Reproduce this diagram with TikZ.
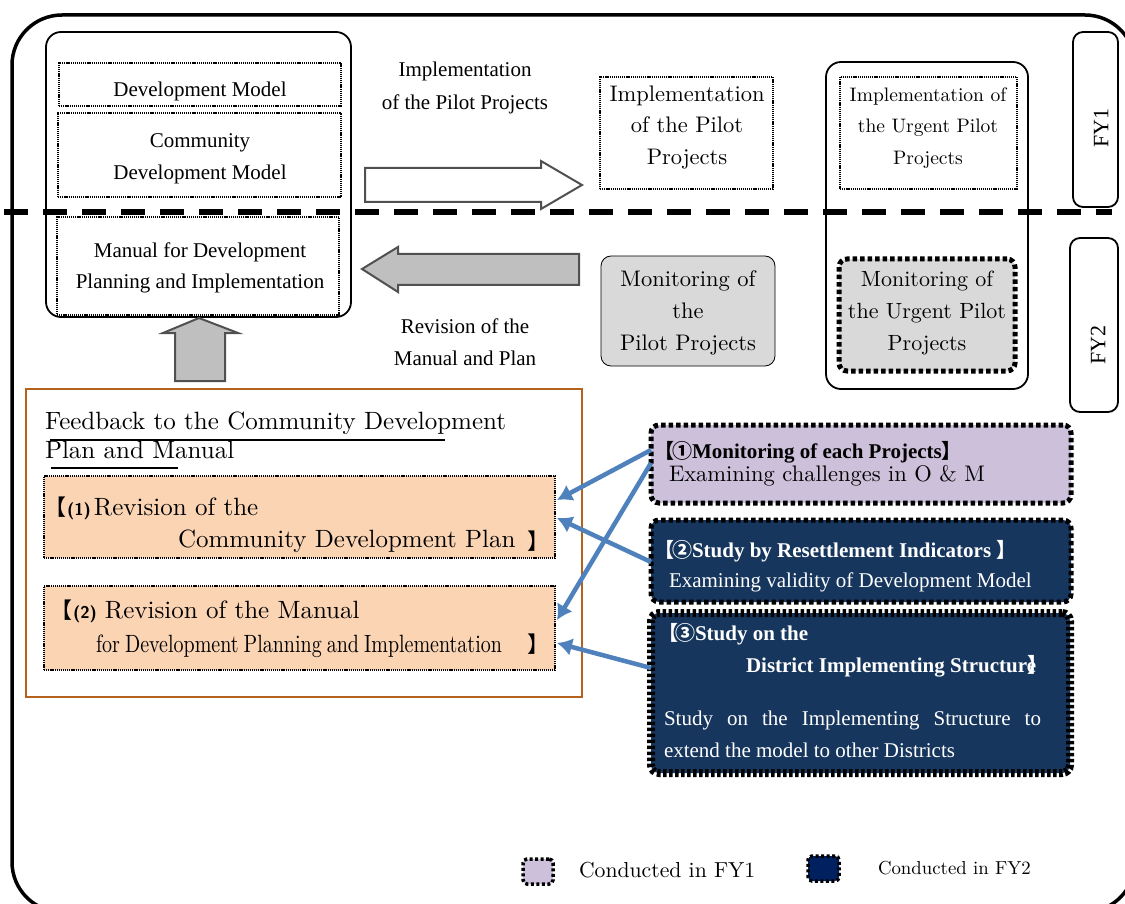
\documentclass[tikz,border=0pt]{standalone}
\usepackage{fontspec}
\usepackage{graphicx}
\usetikzlibrary{arrows.meta,calc}
\setmainfont{lmroman10-regular.otf}[BoldFont=lmroman10-bold.otf,ItalicFont=lmroman10-italic.otf]
\newfontfamily\tms{Liberation Serif}
\newfontfamily\cjk{Noto Sans CJK JP}
\definecolor{peach}{HTML}{FBD4B4}
\definecolor{lilac}{HTML}{CCC0DA}
\definecolor{navy}{HTML}{17365D}
\definecolor{navyk}{HTML}{002060}
\definecolor{rust}{HTML}{B5621E}
\definecolor{linkblue}{HTML}{4F81BD}
\definecolor{panel}{HTML}{D9D9D9}
\definecolor{arrowgray}{HTML}{BFBFBF}
\definecolor{edgegray}{HTML}{505050}

\begin{document}
\begin{tikzpicture}[x=1pt,y=-1pt,
  every node/.style={inner sep=0pt,outer sep=0pt},
  wh/.style 2 args={minimum width=#1pt,minimum height=#2pt,anchor=north west},
  fine dots/.style={draw=black,line width=1.3pt,dash pattern=on 1.2pt off 0.9pt},
  heavy dots/.style={draw=black,line width=5pt,dash pattern=on 4.5pt off 3pt,rounded corners=8pt},
  bar dots/.style={draw=black,line width=8pt,dash pattern=on 3.5pt off 2.5pt,rounded corners=8pt},
  solid round/.style={draw=black,line width=1.8pt,rounded corners=15pt},
  block arrow/.style={draw=edgegray,line width=2pt,line join=miter},
  link/.style={draw=linkblue,line width=4.5pt,-{Latex[length=15pt,width=18pt]}},
  tm/.style={font=\tms\fontsize{21}{21}\selectfont},
  tmb/.style={font=\tms\bfseries\fontsize{21}{21}\selectfont},
  lmsize/.style={font=\fontsize{#1}{#1}\selectfont},
  mark cjk/.style={font=\cjk\fontsize{20}{20}\selectfont},
]
\useasboundingbox (0,0) rectangle (1125,904);
\clip (0,0) rectangle (1125,904);
\fill[white] (0,0) rectangle (1125,904);

% outer frame
\draw[line width=3.5pt,rounded corners=50pt] (12,15) rectangle (1135,912);

% ---------- development model block ----------
\node[solid round,wh={305}{285}] (plan) at (46,32) {};
\node[fine dots,wh={282}{43}] (dm) at (59,63) {};
\node[tm,anchor=base] (dmT) at (200,97) {Development Model};
\node[fine dots,wh={283}{84}] (cdm) at (58,113) {};
\node[tm,anchor=base] (cdmA) at (200,148) {Community};
\node[tm,anchor=base] (cdmB) at (200,180) {Development Model};
\node[fine dots,wh={282}{98}] (man) at (57,217) {};
\node[tm,anchor=base] (manA) at (200,258) {Manual for Development};
\node[tm,anchor=base] (manB) at (200,288) {Planning and Implementation};

% block arrows
\draw[block arrow,fill=white] (365,168) -- (541,168) -- (541,161) -- (582,185)
  -- (541,209) -- (541,202) -- (365,202) -- cycle;
\draw[block arrow,fill=arrowgray] (579,254) -- (398,254) -- (398,247) -- (362,269)
  -- (398,292) -- (398,285) -- (579,285) -- cycle;
\draw[block arrow,fill=arrowgray] (175,381) -- (175,333) -- (163,333) -- (199,318)
  -- (238,333) -- (225,333) -- (225,381) -- cycle;

\node[tm,anchor=base] (impA) at (465,77) {Implementation};
\node[tm,anchor=base] (impB) at (465,110) {of the Pilot Projects};
\node[tm,anchor=base] (revA) at (465,333) {Revision of the};
\node[tm,anchor=base] (revB) at (465,365) {Manual and Plan};

% ---------- pilot projects ----------
\node[fine dots,wh={173}{112}] (pimp) at (600,77) {};
\node[lmsize=22.5,anchor=base] (pimpA) at (687,102) {Implementation};
\node[lmsize=22.5,anchor=base] (pimpB) at (687,133) {of the Pilot};
\node[lmsize=22.5,anchor=base] (pimpC) at (687,165) {Projects};

\node[draw=black,line width=0.8pt,rounded corners=10pt,fill=panel,wh={174}{110}] (pmon) at (601,256) {};
\node[lmsize=22.5,anchor=base] (pmonA) at (688,287) {Monitoring of};
\node[lmsize=22.5,anchor=base] (pmonB) at (688,318) {the};
\node[lmsize=22.5,anchor=base] (pmonC) at (688,350) {Pilot Projects};

% ---------- urgent pilot projects ----------
\node[solid round,wh={202}{327}] (urg) at (826,62) {};
\node[fine dots,wh={177}{112}] (uimp) at (840,77) {};
\node[lmsize=19.5,anchor=base] (uimpA) at (928,102) {Implementation of};
\node[lmsize=19.5,anchor=base] (uimpB) at (928,133) {the Urgent Pilot};
\node[lmsize=19.5,anchor=base] (uimpC) at (928,165) {Projects};
\node[heavy dots,fill=panel,wh={176}{112}] (umon) at (839,259) {};
\node[lmsize=22,anchor=base] (umonA) at (927,287) {Monitoring of};
\node[lmsize=22,anchor=base] (umonB) at (927,318) {the Urgent Pilot};
\node[lmsize=22,anchor=base] (umonC) at (927,350) {Projects};

% fiscal year tabs
\node[draw=black,line width=1.8pt,rounded corners=10pt,wh={45}{175}] (fy1) at (1073,32) {};
\node[tm,font=\tms\fontsize{22}{22}\selectfont,rotate=90] (fy1T) at (1101,128) {FY1};
\node[draw=black,line width=1.8pt,rounded corners=10pt,wh={48}{174}] (fy2) at (1070,238) {};
\node[tm,font=\tms\fontsize{22}{22}\selectfont,rotate=90] (fy2T) at (1098,345) {FY2};

% year boundary
\draw[line width=5.5pt,dash pattern=on 24pt off 15pt] (4,212) -- (1112,212);

% ---------- feedback block ----------
\node[draw=rust,line width=2pt,wh={556}{308}] (fb) at (26,389) {};
\node[lmsize=25,anchor=base west] (fbA) at (45,429) {Feedback to the Community Development};
\node[lmsize=25,anchor=base west] (fbB) at (45,458) {Plan and Manual};
\draw[line width=1.6pt] ($(fbA.base west)+(5,11)$) -- ($(fbA.base west)+(400,11)$);
\draw[line width=1.6pt] ($(fbB.base west)+(6,10)$) -- ($(fbB.base west)+(133,10)$);

\node[fine dots,fill=peach,wh={511}{82}] (r1) at (44,476) {};
\node[lmsize=25,anchor=base west] (r1A) at (44,515)
  {{\cjk\fontsize{22}{22}\selectfont 【}\kern1pt{\sffamily\bfseries\fontsize{17}{17}\selectfont(1)}\kern3pt Revision of the};
\node[lmsize=25,anchor=base west] (r1B) at (178,547) {Community Development Plan};
\node[lmsize=22,anchor=base west] (r1C) at (527,549) {\cjk 】};

\node[fine dots,fill=peach,wh={511}{84}] (r2) at (44,586) {};
\node[lmsize=25,anchor=base west] (r2A) at (50,618)
  {{\cjk\fontsize{22}{22}\selectfont 【}\kern1pt{\sffamily\bfseries\fontsize{17}{17}\selectfont(2)}\kern8pt Revision of the Manual};
\node[lmsize=25,anchor=base west] (r2B) at (96,652)
  {\scalebox{0.8}[1]{for\kern-2pt\ Development\kern-2pt\ Planning\kern-2pt\ and\kern-2pt\ Implementation}};
\node[lmsize=22,anchor=base west] (r2C) at (527,652) {\cjk 】};

% ---------- studies ----------
\node[heavy dots,fill=lilac,wh={420}{78}] (m1) at (651,425) {};
\node[tmb,anchor=base west] (m1A) at (654,458)
  {{\cjk\fontsize{20}{20}\selectfont 【\kern-2pt①}Monitoring of each Projects{\cjk\fontsize{20}{20}\selectfont 】}};
\node[lmsize=22.5,anchor=base west] (m1B) at (669,481) {Examining challenges in O \& M};

\node[heavy dots,fill=navy,wh={420}{82}] (m2) at (651,520) {};
\node[tmb,text=white,anchor=base west] (m2A) at (654,557)
  {{\cjk\fontsize{20}{20}\selectfont 【\kern-2pt②}Study by Resettlement Indicators {\cjk\fontsize{20}{20}\selectfont 】}};
\node[tm,text=white,anchor=base west] (m2B) at (669,587) {Examining validity of Development Model};

\node[bar dots,fill=navy,wh={419}{160}] (m3) at (651,613) {};
\node[tmb,text=white,anchor=base west] (m3A) at (658,640)
  {{\cjk\fontsize{20}{20}\selectfont 【\kern-3pt③}Study on the};
\node[tmb,text=white,anchor=base west] (m3B) at (746,672)
  {District Implementing Structure\kern-9pt{\cjk\fontsize{20}{20}\selectfont 】}};
\node[tm,text=white,anchor=base west] (m3C) at (664,725)
  {\makebox[377pt][s]{Study on the Implementing Structure to}};
\node[tm,text=white,anchor=base west] (m3D) at (664,757) {extend the model to other Districts};

% feedback links
\draw[link] ($(m1.west)+(0,-14)$) -- ($(r1.east)+(2,-17)$);
\draw[link] ($(m1.west)+(0,-1)$) -- ($(r2.east)+(2,-8)$);
\draw[link] ($(m2.west)+(0,1)$) -- ($(r1.east)+(2,1)$);
\draw[link] ($(m3.west)+(0,-25)$) -- ($(r2.east)+(2,15)$);

% ---------- legend ----------
\node[draw=black,line width=3.5pt,dash pattern=on 3pt off 2.5pt,rounded corners=4pt,fill=lilac,wh={30}{25}] (k1) at (523,859) {};
\node[lmsize=21.7,anchor=base west] (k1T) at (579,877) {Conducted in FY1};
\node[draw=black,line width=3.5pt,dash pattern=on 3pt off 2.5pt,rounded corners=4pt,fill=navyk,wh={31}{25}] (k2) at (808,856) {};
\node[lmsize=18.8,anchor=base west] (k2T) at (878,874) {Conducted in FY2};
\end{tikzpicture}
\end{document}
